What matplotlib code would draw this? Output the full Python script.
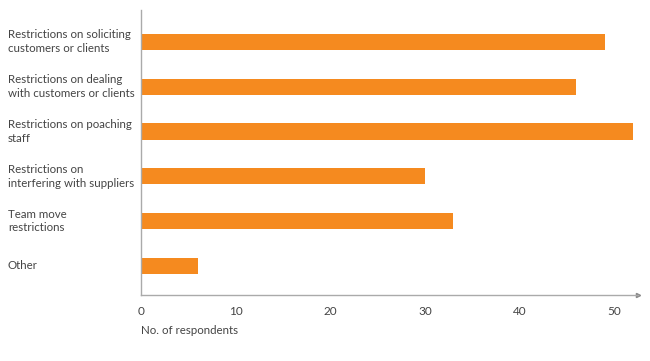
import matplotlib.pyplot as plt
from matplotlib.transforms import blended_transform_factory

categories = [
    "Restrictions on soliciting\ncustomers or clients",
    "Restrictions on dealing\nwith customers or clients",
    "Restrictions on poaching\nstaff",
    "Restrictions on\ninterfering with suppliers",
    "Team move\nrestrictions",
    "Other",
]
respondents = [49, 46, 52, 30, 33, 6]
ticks = [0, 10, 20, 30, 40, 50]

TEXT = '#444444'
BAR = '#F58A1F'

plt.rcParams['font.family'] = ['Lato', 'DejaVu Sans']

fig = plt.figure(figsize=(6.5, 3.61), dpi=100)
ax = fig.add_axes([141 / 650, 1 - 295 / 361, (638 - 141) / 650, 285 / 361])

y = list(range(len(categories)))
ax.barh(y, respondents, height=0.36, color=BAR)

ax.set_xlim(0, 52.5)
ax.set_ylim(5.65, -0.71)
ax.set_yticks([])
ax.set_xticks(ticks)
ax.tick_params(axis='x', length=0, pad=8, labelsize=8.5, labelcolor=TEXT)

for s in ['top', 'right']:
    ax.spines[s].set_visible(False)
for s in ['left', 'bottom']:
    ax.spines[s].set_color('#aaaaaa')
    ax.spines[s].set_linewidth(1)

# small arrow head at end of x axis
ax.plot([1], [0], marker='>', markersize=3, color='#888888',
        transform=ax.transAxes, clip_on=False)

trans = blended_transform_factory(fig.transFigure, ax.transData)
for yi, label in zip(y, categories):
    ax.text(8 / 650, yi, label, transform=trans, ha='left', va='center',
            fontsize=8.3, color=TEXT, linespacing=1.3)

fig.text(141 / 650, 1 - 331 / 361, "No. of respondents", ha='left', va='center',
         fontsize=8.3, color=TEXT)

fig.savefig('out.png', dpi=100)
